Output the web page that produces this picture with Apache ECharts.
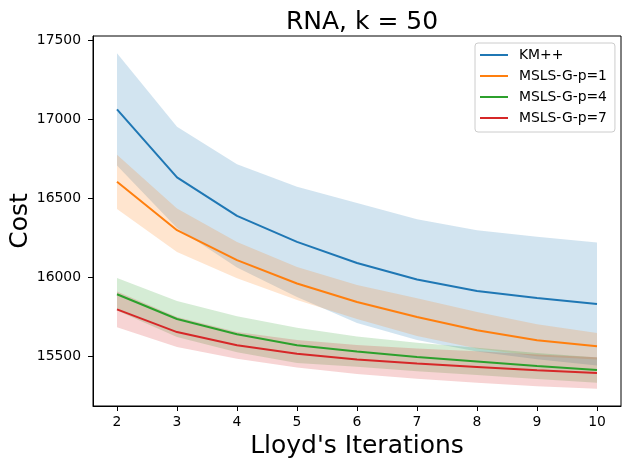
<!DOCTYPE html>
<html><head><meta charset="utf-8">
<script src="https://cdn.jsdelivr.net/npm/echarts@6/dist/echarts.min.js"></script>
<style>html,body{margin:0;padding:0;background:#fff}#c{width:630px;height:469px}</style>
</head><body><div id="c"></div>
<script>
const iterations = [2, 3, 4, 5, 6, 7, 8, 9, 10];
const seriesNames = ['KM++', 'MSLS-G-p=1', 'MSLS-G-p=4', 'MSLS-G-p=7'];
const kmMean = [17065, 16633, 16389, 16224, 16090, 15985, 15913, 15868, 15830];
const kmStd  = [356, 321, 328, 349, 381, 383, 385, 388, 390];
const p1Mean = [16605, 16298, 16108, 15960, 15843, 15747, 15663, 15600, 15562];
const p1Std  = [172, 138, 115, 105, 108, 120, 116, 101, 84];
const p4Mean = [15892, 15735, 15638, 15568, 15528, 15494, 15466, 15437, 15411];
const p4Std  = [103, 114, 114, 112, 96, 90, 86, 82, 80];
const p7Mean = [15796, 15652, 15568, 15515, 15478, 15452, 15430, 15409, 15392];
const p7Std  = [114, 95, 85, 87, 92, 96, 100, 100, 100];
const xTicks = [2, 3, 4, 5, 6, 7, 8, 9, 10];
const yTicks = [15500, 16000, 16500, 17000, 17500];
const colors = ['#1f77b4', '#ff7f0e', '#2ca02c', '#d62728'];

const means = [kmMean, p1Mean, p4Mean, p7Mean];
const stds = [kmStd, p1Std, p4Std, p7Std];
const FONT = 'DejaVu Sans';

const series = [];
means.forEach((m, i) => {
  const s = stds[i];
  const upper = iterations.map((x, k) => [x, m[k] + s[k]]);
  const lower = iterations.map((x, k) => [x, m[k] - s[k]]);
  series.push({
    name: seriesNames[i], type: 'line', symbol: 'none', z: 3,
    data: iterations.map((x, k) => [x, m[k]]),
    lineStyle: { color: colors[i], width: 2 }, itemStyle: { color: colors[i] }
  });
  series.push({
    name: 'band' + i, type: 'custom', silent: true, z: 2,
    data: [[iterations[0], m[0]]],
    encode: { x: 0, y: 1 },
    renderItem: function (params, api) {
      const pts = upper.map(p => api.coord(p)).concat(lower.slice().reverse().map(p => api.coord(p)));
      return {
        type: 'polygon',
        shape: { points: pts },
        style: { fill: colors[i], opacity: 0.2 }
      };
    }
  });
});

const chart = echarts.init(document.getElementById('c'), null, { renderer: 'canvas' });
chart.setOption({
  animation: false,
  backgroundColor: '#fff',
  title: {
    text: 'RNA, k = 50', left: 357, top: 5, textAlign: 'center',
    textStyle: { fontFamily: FONT, fontSize: 25, fontWeight: 'normal', color: '#000' }
  },
  legend: {
    data: seriesNames, left: 475, top: 43, orient: 'vertical',
    icon: 'rect', itemWidth: 28, itemHeight: 2, itemGap: 7,
    padding: [5, 8, 7, 5],
    backgroundColor: 'rgba(255,255,255,0.8)', borderColor: '#cccccc', borderWidth: 1, borderRadius: 3,
    textStyle: { fontFamily: FONT, fontSize: 13.9, color: '#000', lineHeight: 14, padding: [0, 0, 0, 6] }
  },
  grid: { left: 93, right: 9, top: 36, bottom: 63, show: true, borderColor: '#000', borderWidth: 1,
          containLabel: false, outerBoundsMode: 'none' },
  xAxis: {
    type: 'value', min: 1.6, max: 10.4,
    name: "Lloyd's Iterations", nameLocation: 'middle', nameGap: 28, nameMoveOverlap: false,
    nameTextStyle: { fontFamily: FONT, fontSize: 25, color: '#000' },
    axisLine: { show: true, lineStyle: { color: '#000', width: 1 } },
    axisTick: { show: true, length: 5, customValues: xTicks, lineStyle: { color: '#000' } },
    axisLabel: { customValues: xTicks, margin: 9, fontFamily: FONT, fontSize: 13.9, color: '#000',
                 formatter: v => String(v) },
    splitLine: { show: false }
  },
  yAxis: {
    type: 'value', min: 15183, max: 17530,
    name: 'Cost', nameLocation: 'middle', nameGap: 60, nameMoveOverlap: false,
    nameTextStyle: { fontFamily: FONT, fontSize: 25, color: '#000' },
    axisLine: { show: true, lineStyle: { color: '#000', width: 1 } },
    axisTick: { show: true, length: 5, customValues: yTicks, lineStyle: { color: '#000' } },
    axisLabel: { customValues: yTicks, margin: 12, fontFamily: FONT, fontSize: 13.9, color: '#000',
                 formatter: v => String(v) },
    splitLine: { show: false }
  },
  series: series
});
</script></body></html>
